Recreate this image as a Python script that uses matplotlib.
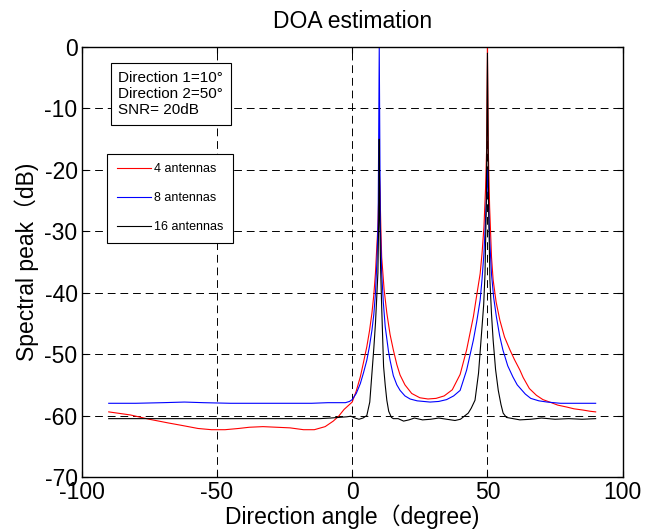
import matplotlib
matplotlib.use('Agg')
import matplotlib.pyplot as plt

plt.rcParams['font.family'] = ['Liberation Sans', 'Noto Sans CJK SC', 'DejaVu Sans']
plt.rcParams['axes.unicode_minus'] = False

# 4 antennas (red)
x4 = [-90, -82, -75, -68, -63, -57, -52, -47, -42, -38, -33, -28, -23, -18, -14, -10, -7, -5, -3, -1, 0,
      1.5, 3, 4.2, 5.4, 6.4, 7.3, 8, 8.6, 9.1, 9.5, 9.8, 10, 10.3, 10.6, 10.9, 11.8, 12.8, 14, 15.2, 16.5,
      17.7, 19.5, 22, 25, 28, 31, 34, 37, 39.9, 42.3, 44.8, 46, 47.3, 48, 48.7, 49.3, 49.7, 50, 50.3, 50.8,
      51.5, 52.1, 53.2, 54.6, 56.3, 58.3, 60, 62, 63.2, 65.5, 68.1, 70.5, 73, 76, 79.2, 82, 85.3, 88, 90]
y4 = [-59.4, -59.9, -60.6, -61.2, -61.6, -62.1, -62.3, -62.3, -62.1, -61.9, -61.8, -61.9, -62.0, -62.3, -62.3,
      -61.8, -60.9, -60.1, -59.0, -58.2, -57.8,
      -56.0, -53.7, -51.3, -48.8, -46.2, -43.3, -40.3, -36.8, -32.5, -29.3, -24.5, -20, -23.8, -29.5, -34.2,
      -39.5, -43.3, -46.8, -49.3, -51.7,
      -53.4, -55.0, -56.4, -57.1, -57.3, -57.2, -56.8, -55.8, -53.3, -49.3, -43.9, -40.5, -36.9, -33.6, -29.3,
      -23.0, -16.5, 0, -16.5, -26,
      -34.2, -37.9, -41.5, -44.5, -47.2, -49.3, -50.9, -52.6, -53.8, -55.6, -56.7, -57.4, -57.8, -58.3, -58.6,
      -58.9, -59.1, -59.3, -59.4]

# 8 antennas (blue)
x8 = [-90, -80, -70, -62, -55, -45, -35, -25, -15, -9, -5, -2.5, -1, 0, 1.5, 3, 4.2, 5.4, 6.4, 7.3, 8, 8.6,
      9.2, 9.6, 10, 10.4, 10.9, 11.5, 12.2, 13.4, 14, 15.2, 16.5, 17.7, 19.5, 21.4, 24, 28.8, 32, 34.9, 37.5,
      39.9, 42.3, 44.8, 46, 47.3, 48, 48.7, 49.3, 49.7, 50, 50.3, 50.8, 51.5, 52.3, 53.3, 54.5, 55.7, 57.5,
      59.4, 61, 62, 64, 66, 69, 72.1, 77, 83, 90]
y8 = [-58.0, -58.0, -57.9, -57.8, -57.9, -58.0, -58.0, -58.0, -58.0, -57.9, -57.9, -57.9, -57.7, -57.4, -56.4,
      -54.8, -53.0, -51.0, -48.7, -46.1, -43.5, -40.1,
      -34.2, -28, 0, -29, -36.8, -41.5, -45.5, -49.5, -51, -53.5, -55.0, -55.9, -56.8, -57.3, -57.6, -57.8,
      -57.7, -57.4, -56.8,
      -55.9, -52.6, -47.7, -44.8, -41.2, -37.8, -33.6, -28, -24, -20, -24, -31, -37, -40.8, -43.9, -47,
      -49.3, -51.9,
      -53.7, -55.0, -55.5, -56.5, -57.2, -57.6, -57.8, -58.0, -58.0, -58.0]

# 16 antennas (black)
x16 = [-90, -80, -70, -60, -50, -40, -30, -20, -12, -8, -5, -2, -0.5, 1, 2.5, 4, 5.4, 6.5, 7.3, 8, 8.6, 9.1,
       9.5, 9.8, 10, 10.2, 10.5, 10.9, 11.6, 12.2, 12.8, 13.5, 14.5, 15.2, 17, 19, 21, 23, 26, 29, 32, 35, 38,
       40, 42.9, 44, 45.4, 46.7, 47.9, 48.6, 49.1, 49.6, 50, 50.4, 50.9, 51.5, 52.1, 53, 54, 55, 55.8, 57,
       59.5, 62, 66, 70, 75, 80, 85, 90]
y16 = [-60.5, -60.5, -60.5, -60.5, -60.5, -60.5, -60.5, -60.5, -60.5, -60.4, -60.3, -60.2, -60.1, -60.4,
       -60.6, -60.4, -60.0, -57.8, -53.1, -49.0, -45.0, -40.5,
       -36.8, -28, -15, -28, -36, -42.3, -52, -55, -57.5, -59.3, -60.3, -60.5, -60.5, -60.9, -60.7, -60.4,
       -60.7, -60.6, -60.4, -60.6, -60.8,
       -60.6, -59.6, -58.8, -57.5, -53.1, -46.1, -42, -36.9, -25, -1, -25, -37.9, -43.5, -47.7, -52.5, -55.9,
       -58.2, -59.6, -60.3,
       -60.5, -60.7, -60.6, -60.4, -60.6, -60.5, -60.6, -60.5]

labels = ['4 antennas', '8 antennas', '16 antennas']
info = 'Direction 1=10°\nDirection 2=50°\nSNR= 20dB'

fig = plt.figure(figsize=(6.55, 5.3), dpi=100)
ax = fig.add_axes([0.1247, 0.1, 0.826, 0.8113])

ax.plot(x4, y4, color='red', lw=0.8, label=labels[0])
ax.plot(x8, y8, color='blue', lw=0.8, label=labels[1])
ax.plot(x16, y16, color='black', lw=0.8, label=labels[2])

ax.set_xlim(-100, 100)
ax.set_ylim(-70, 0)
ax.set_xticks([-100, -50, 0, 50, 100])
ax.set_yticks(range(-70, 1, 10))
ax.grid(True, color='k', linestyle=(0, (8, 5)), lw=0.7)
ax.tick_params(direction='in', length=4, top=True, right=True, labelsize=16.5, pad=3, width=0.8)
for s in ax.spines.values():
    s.set_linewidth(1.0)

ax.set_title('DOA estimation', fontsize=16.5, pad=14)
ax.set_xlabel('Direction angle（degree)', fontsize=16.5, labelpad=0)
ax.set_ylabel('Spectral peak（dB)', fontsize=16.5, labelpad=4)

ax.text(0.068, 0.945, info, transform=ax.transAxes, ha='left', va='top', fontsize=11,
        bbox=dict(boxstyle='square,pad=0.5', fc='white', ec='black', lw=0.8))

leg = ax.legend(loc='upper left', bbox_to_anchor=(0.0475, 0.751), borderaxespad=0, fontsize=9,
                handlelength=2.7, handletextpad=0.3, labelspacing=1.35, borderpad=0.75,
                fancybox=False, framealpha=1, edgecolor='black')
leg.get_frame().set_linewidth(0.8)

fig.savefig('out.png', dpi=100)
